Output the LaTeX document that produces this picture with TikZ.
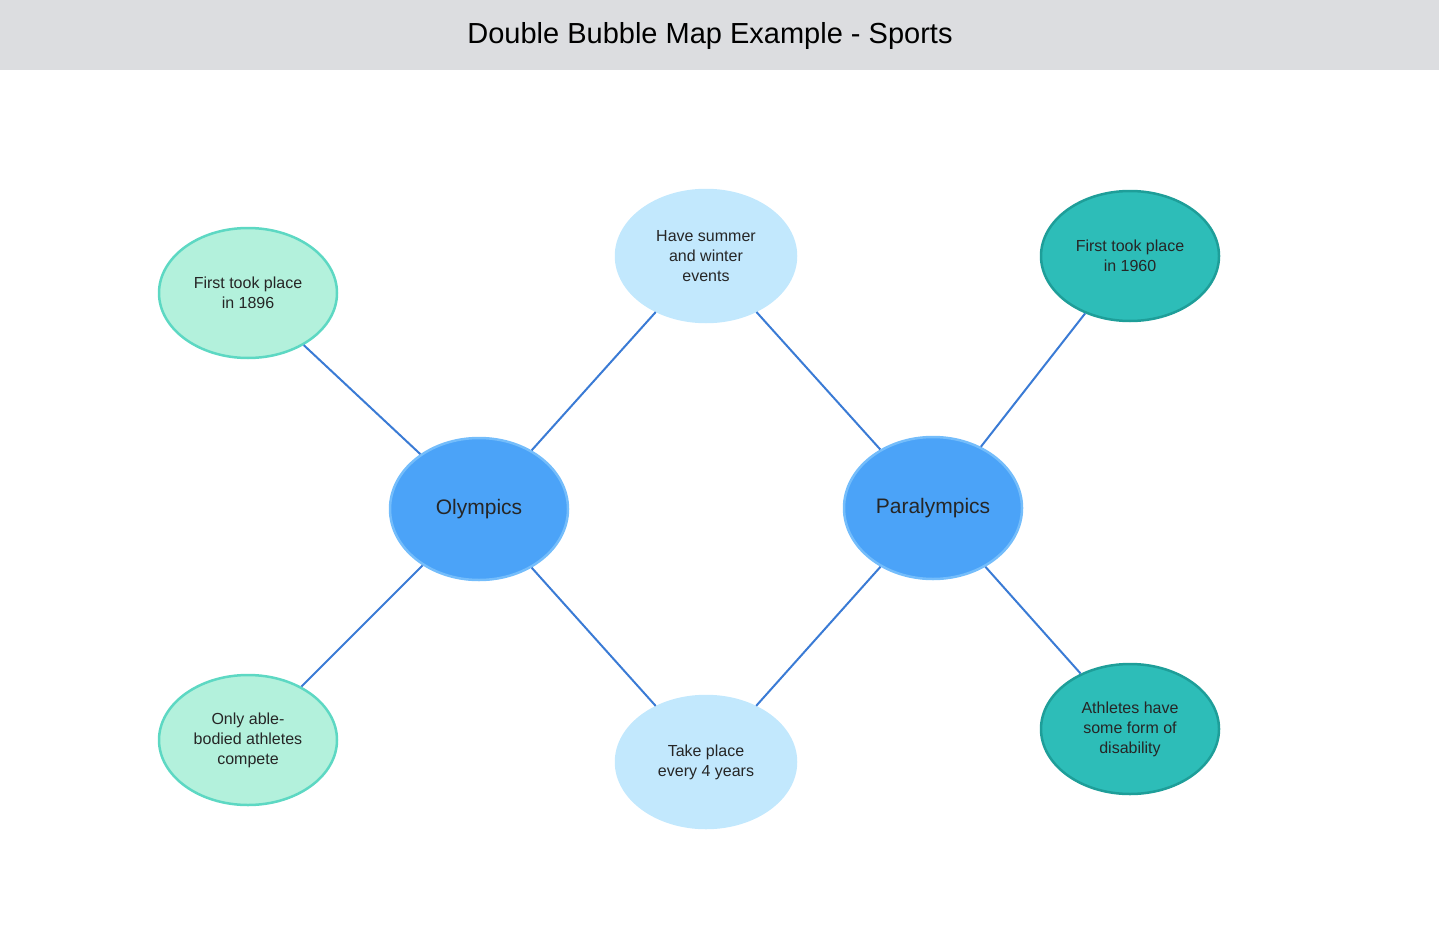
\documentclass[tikz,border=0pt]{standalone}
\usepackage{fontspec}
\setmainfont{Liberation Sans}
\usetikzlibrary{shapes.geometric}
\definecolor{headgray}{HTML}{DCDDE0}
\definecolor{linkblue}{HTML}{3A7BD5}
\definecolor{mainfill}{HTML}{4BA3F8}
\definecolor{mainline}{HTML}{74BDFB}
\definecolor{midfill}{HTML}{C2E8FD}
\definecolor{leftfill}{HTML}{B3F1DC}
\definecolor{leftline}{HTML}{5DD8C3}
\definecolor{rightfill}{HTML}{2DBDB8}
\definecolor{rightline}{HTML}{1E9E99}
\tikzset{
  bubble/.style={ellipse, minimum width=178pt, minimum height=130pt, inner sep=0pt, align=center, line width=2.5pt, font=\fontsize{16}{20}\selectfont, text=black!85},
  topic/.style={bubble, fill=mainfill, draw=mainline, minimum height=142pt, font=\fontsize{21}{25}\selectfont},
  shared/.style={bubble, fill=midfill, draw=midfill, minimum width=180pt, minimum height=132pt},
  olyonly/.style={bubble, fill=leftfill, draw=leftline},
  paraonly/.style={bubble, fill=rightfill, draw=rightline},
  link/.style={draw=linkblue, line width=2pt}
}
\begin{document}
\begin{tikzpicture}[x=1pt,y=-1pt]
  \useasboundingbox (0,0) rectangle (1439,947);
  \fill[headgray] (0,0) rectangle (1439,70);
  \node (title) at (710,36) {\fontsize{29}{34}\selectfont Double Bubble Map Example - Sports};
  % main topics
  \node[topic] (oly) at (479,509) {Olympics};
  \node[topic] (para) at (933,508) {Paralympics};
  % shared qualities
  \node[shared] (seasons) at (706,256) {Have summer\\and winter\\events};
  \node[shared] (years) at (706,762) {Take place\\every 4 years};
  % Olympics only
  \node[olyonly] (oly1896) at (248,293) {First took place\\in 1896};
  \node[olyonly] (able) at (248,740) {Only able-\\bodied athletes\\compete};
  % Paralympics only
  \node[paraonly] (para1960) at (1130,256) {First took place\\in 1960};
  \node[paraonly] (disab) at (1130,729) {Athletes have\\some form of\\disability};
  % connectors
  \draw[link] (oly) -- (oly1896);
  \draw[link] (oly) -- (able);
  \draw[link] (oly) -- (seasons);
  \draw[link] (oly) -- (years);
  \draw[link] (para) -- (seasons);
  \draw[link] (para) -- (years);
  \draw[link] (para) -- (para1960);
  \draw[link] (para) -- (disab);
\end{tikzpicture}
\end{document}
